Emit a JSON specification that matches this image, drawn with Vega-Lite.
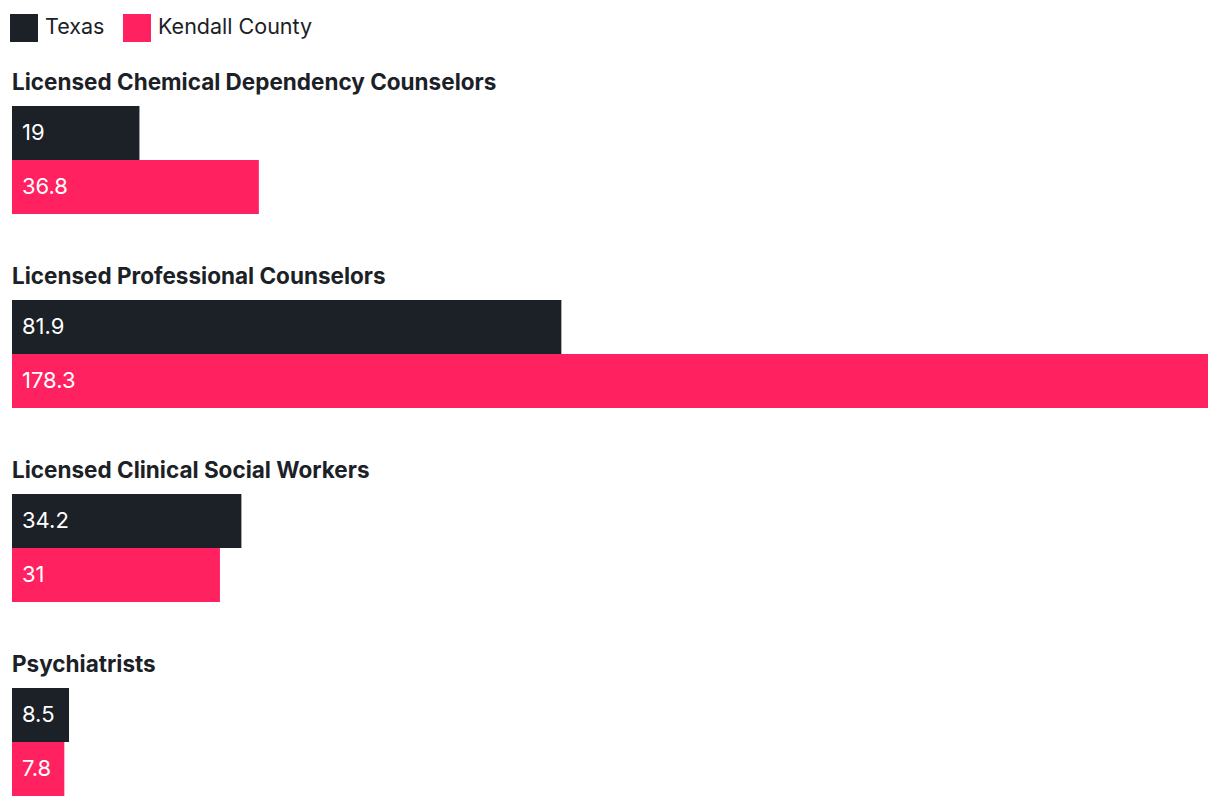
{
  "$schema": "https://vega.github.io/schema/vega-lite/v6.json",
  "autosize": {"type": "pad"},
  "padding": {"left": 10, "top": 14, "right": 0, "bottom": 0},
  "background": "white",
  "config": {"view": {"stroke": null}},
  "data": {"values": [
    {"category": "Licensed Chemical Dependency Counselors", "series": "Texas", "value": 19},
    {"category": "Licensed Chemical Dependency Counselors", "series": "Kendall County", "value": 36.8},
    {"category": "Licensed Professional Counselors", "series": "Texas", "value": 81.9},
    {"category": "Licensed Professional Counselors", "series": "Kendall County", "value": 178.3},
    {"category": "Licensed Clinical Social Workers", "series": "Texas", "value": 34.2},
    {"category": "Licensed Clinical Social Workers", "series": "Kendall County", "value": 31},
    {"category": "Psychiatrists", "series": "Texas", "value": 8.5},
    {"category": "Psychiatrists", "series": "Kendall County", "value": 7.8}
  ]},
  "facet": {
    "row": {
      "field": "category",
      "type": "nominal",
      "sort": ["Licensed Chemical Dependency Counselors", "Licensed Professional Counselors", "Licensed Clinical Social Workers", "Psychiatrists"],
      "header": {
        "title": null,
        "labelOrient": "top",
        "labelAnchor": "start",
        "labelAngle": 0,
        "labelAlign": "left",
        "labelBaseline": "bottom",
        "labelFont": "Inter",
        "labelFontSize": 22.5,
        "labelFontWeight": "bold",
        "labelColor": "#1b2126",
        "labelPadding": -11
      }
    }
  },
  "spacing": 51,
  "spec": {
    "width": 1196,
    "height": 108,
    "encoding": {
      "y": {
        "field": "series",
        "type": "nominal",
        "sort": ["Texas", "Kendall County"],
        "scale": {"paddingInner": 0, "paddingOuter": 0},
        "axis": null
      }
    },
    "layer": [
      {
        "mark": {"type": "bar"},
        "encoding": {
          "x": {"field": "value", "type": "quantitative", "scale": {"domain": [0, 178.3], "nice": false, "zero": true}, "axis": null},
          "color": {
            "field": "series",
            "type": "nominal",
            "sort": ["Texas", "Kendall County"],
            "scale": {"domain": ["Texas", "Kendall County"], "range": ["#1b2126", "#ff2160"]},
            "legend": {
              "title": null,
              "orient": "none",
              "legendX": -2,
              "legendY": -92,
              "direction": "horizontal",
              "symbolType": "square",
              "symbolSize": 784,
              "symbolStrokeWidth": 0,
              "symbolOpacity": 1,
              "labelFont": "Inter",
              "labelFontSize": 21.5,
              "labelColor": "#1b2126",
              "labelOffset": 7,
              "columnPadding": 18
            }
          }
        }
      },
      {
        "mark": {"type": "text", "align": "left", "baseline": "middle", "dx": 10, "font": "Inter", "fontSize": 22, "color": "white"},
        "encoding": {
          "x": {"datum": 0, "type": "quantitative"},
          "text": {"field": "value", "type": "quantitative"}
        }
      }
    ]
  }
}
